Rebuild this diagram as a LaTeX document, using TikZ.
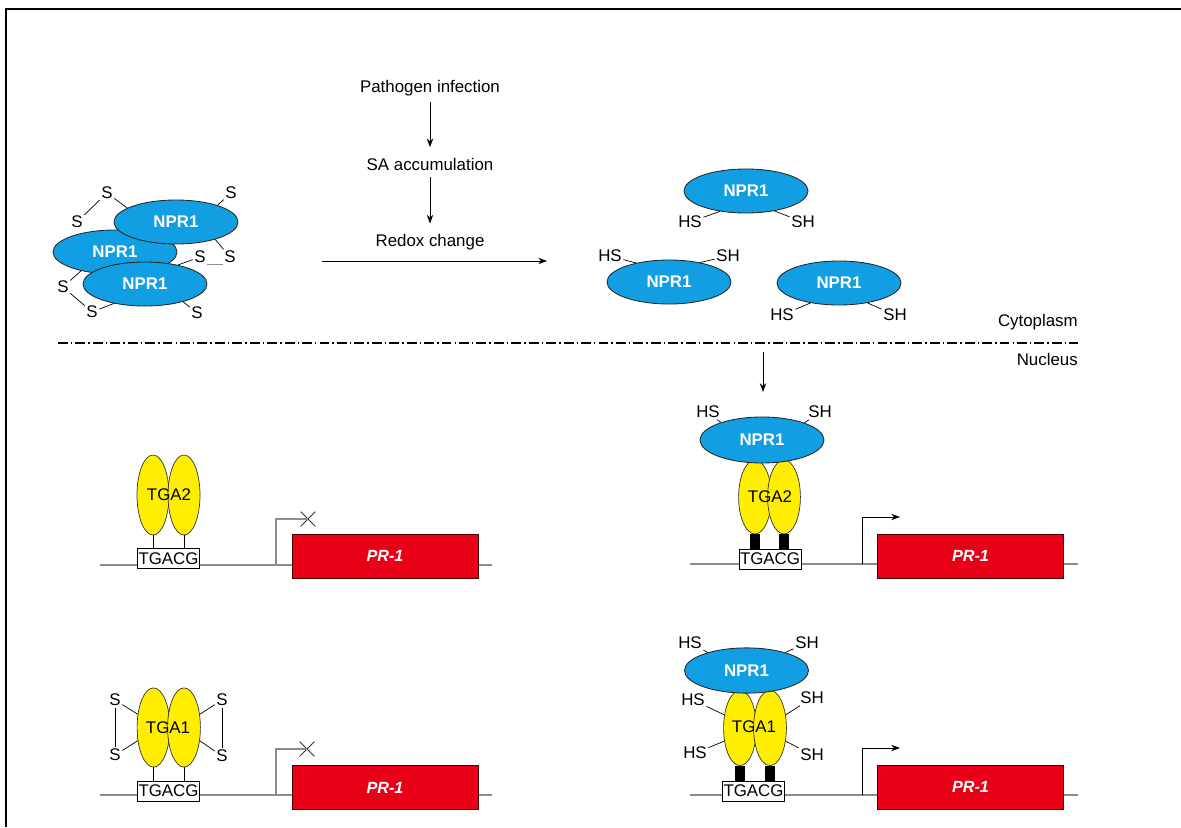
\documentclass[tikz,border=0pt]{standalone}
\usepackage{fontspec}
\setmainfont{Liberation Sans}
\usetikzlibrary{arrows.meta,positioning,calc,shapes.geometric,shapes.misc}
\definecolor{nprblue}{RGB}{18,158,226}
\definecolor{tgayellow}{RGB}{255,238,0}
\definecolor{prred}{RGB}{232,0,22}
\definecolor{dnagray}{RGB}{140,140,140}
\newcommand{\figfont}{\fontsize{12}{14}\selectfont}
\tikzset{
  npr/.style={ellipse, draw=black!85, fill=nprblue, line width=0.6pt, inner sep=0pt,
              minimum width=3.1cm, minimum height=1.1cm, font=\figfont\bfseries, text=white},
  tga/.style={ellipse, draw=black!80, fill=tgayellow, line width=0.5pt, inner sep=0pt,
              minimum width=0.82cm, minimum height=1.85cm},
  site/.style={rectangle, draw, fill=white, line width=0.6pt, inner sep=0pt,
               minimum width=1.55cm, minimum height=0.5cm},
  gene/.style={rectangle, draw=black!70!red, fill=prred, line width=0.6pt, inner sep=0pt,
               minimum width=4.65cm, minimum height=1.1cm, font=\fontsize{11.5}{14}\selectfont\bfseries\itshape, text=white},
  thiol/.style={inner sep=1pt},
  bond/.style={line width=0.5pt},
  bar/.style={line width=0.25cm},
  dna/.style={draw=dnagray, line width=1.2pt},
  prom/.style={draw=dnagray, line width=1pt},
  fl/.style={-{Stealth[length=2.2mm,width=1.6mm]}, line width=0.6pt},
  down/.style={fl, shorten >=4pt, shorten <=1pt},
  nolink/.style={cross out, draw=black!80, line width=0.6pt, inner sep=0pt, minimum size=0.35cm},
}
\begin{document}
\begin{tikzpicture}[x=0.025cm, y=-0.025cm, font=\figfont]
\useasboundingbox (0,0) rectangle (1181,827);
\draw[line width=2.1pt] (1181,9) -- (6,9) -- (6,827);

% oxidized oligomer
\node[npr] (o1) at (115,252) {NPR1};
\node[npr] (o2) at (176,222) {NPR1};
\node[npr] (o3) at (145,284) {NPR1};
\node[thiol] (s1) at (107,193) {S};
\node[thiol] (s2) at (77,222) {S};
\node[thiol] (s3) at (231,193) {S};
\node[thiol] (s4) at (200,257) {S};
\node[thiol] (s5) at (230,257) {S};
\node[thiol] (s6) at (63,287) {S};
\node[thiol] (s7) at (92,312) {S};
\node[thiol] (s8) at (197,313) {S};
\draw[bond] (o2.164) -- (s1);
\draw[bond] (s1) -- (s2);
\draw[bond] (o2.22) -- (s3);
\draw[bond] (o2.-24) -- (s5);
\draw[bond] (o3.30) -- (s4);
\draw[bond, dnagray] (s4.south east) -- (s5.south west);
\draw[bond] (o1.209) -- (s6);
\draw[bond] (s6) -- (s7);
\draw[bond] (o3.212) -- (s7);
\draw[bond] (o3.-25) -- (s8);

% signal
\node (inf) at (430,88) {Pathogen infection};
\node (acc) at (430,164) {SA accumulation};
\node (redox) at (430,242) {Redox change};
\draw[down] (inf) -- (acc);
\draw[down] (acc) -- (redox);
\coordinate (ox1) at (322,261);
\coordinate (ox2) at (547,261);
\draw[fl] (ox1) -- (ox2);

% reduced monomers
\node[npr] (m1) at (746,191) {NPR1};
\node[npr] (m2) at (669,282) {NPR1};
\node[npr] (m3) at (839,283) {NPR1};
\node[thiol] (m1l) at (690,222) {HS};
\node[thiol] (m1r) at (803,222) {SH};
\node[thiol] (m2l) at (610,256) {HS};
\node[thiol] (m2r) at (728,256) {SH};
\node[thiol] (m3l) at (782,315) {HS};
\node[thiol] (m3r) at (895,315) {SH};
\draw[bond] (m1.218) -- (m1l);
\draw[bond] (m1.-35) -- (m1r);
\draw[bond] (m2.150) -- (m2l);
\draw[bond] (m2.32) -- (m2r);
\draw[bond] (m3.215) -- (m3l);
\draw[bond] (m3.-35) -- (m3r);

% membrane
\coordinate (mem1) at (58,343);
\coordinate (mem2) at (1078,343);
\draw[line width=1pt, dash pattern=on 7pt off 2.2pt on 1pt off 2.2pt] (mem1) -- (mem2);
\node[anchor=east, inner sep=0pt] (cyto) at (1078,322) {Cytoplasm};
\node[anchor=east, inner sep=0pt] (nuc) at (1078,359) {Nucleus};
\coordinate (imp1) at (763,352);
\coordinate (imp2) at (763,392);
\draw[fl] (imp1) -- (imp2);

% TGA2, uninduced
\coordinate (d1a) at (100,565);
\coordinate (d1b) at (492,565);
\draw[dna] (d1a) -- (d1b);
\node[nolink] (x1) at (308,519) {};
\coordinate (p1) at (276,565);
\draw[prom] (p1) |- (x1.center);
\node[gene] (g1) at (385,556) {PR-1};
\node[site] (c1) at (168.5,558.5) {TGACG};
\node[tga, minimum width=0.8cm, minimum height=2cm] (a1) at (153,495) {};
\node[tga, minimum width=0.8cm, minimum height=2cm] (b1) at (184,495) {};
\node (t1) at (169,495) {TGA2};
\draw[bond] (a1.south) -- (a1.south |- c1.north);
\draw[bond] (b1.south) -- (b1.south |- c1.north);

% TGA1, uninduced
\coordinate (d2a) at (100,795);
\coordinate (d2b) at (492,795);
\draw[dna] (d2a) -- (d2b);
\node[nolink] (x2) at (307,749) {};
\coordinate (p2) at (276,795);
\draw[prom] (p2) |- (x2.center);
\node[gene] (g2) at (385,787.5) {PR-1};
\node[site] (c2) at (168.5,791) {TGACG};
\node[tga, minimum height=1.98cm] (a2) at (153.5,727.5) {};
\node[tga, minimum height=1.98cm] (b2) at (184,727.5) {};
\node (t2) at (168,728) {TGA1};
\draw[bond] (a2.south) -- (a2.south |- c2.north);
\draw[bond] (b2.south) -- (b2.south |- c2.north);
\node[thiol] (u1) at (115,700) {S};
\node[thiol] (u2) at (115,755) {S};
\node[thiol] (u3) at (222,700) {S};
\node[thiol] (u4) at (222,756) {S};
\draw[bond] (a2.140) -- (u1);
\draw[bond] (a2.220) -- (u2);
\draw[bond] (u1) -- (u2);
\draw[bond] (b2.40) -- (u3);
\draw[bond] (b2.-40) -- (u4);
\draw[bond] (u3) -- (u4);

% TGA2 with NPR1, induced
\coordinate (d3a) at (690,564);
\coordinate (d3b) at (1078,564);
\draw[dna] (d3a) -- (d3b);
\coordinate (p3) at (862,564);
\coordinate (e3) at (900,517);
\draw[fl] (p3) |- (e3);
\node[gene] (g3) at (970.5,556) {PR-1};
\node[site] (c3) at (770,559) {TGACG};
\node[tga] (a3) at (755,497) {};
\node[tga] (b3) at (784,497) {};
\node (t3) at (770,497) {TGA2};
\draw[bar] (a3.south) -- (a3.south |- c3.north);
\draw[bar] (b3.south) -- (b3.south |- c3.north);
\node[npr, minimum height=1.15cm] (n3) at (762,440) {NPR1};
\node[thiol] (n3l) at (708,412) {HS};
\node[thiol] (n3r) at (820,412) {SH};
\draw[bond] (n3.157) -- (n3l);
\draw[bond] (n3.22) -- (n3r);

% TGA1 with NPR1, induced
\coordinate (d4a) at (690,795);
\coordinate (d4b) at (1078,795);
\draw[dna] (d4a) -- (d4b);
\coordinate (p4) at (862,795);
\coordinate (e4) at (900,748);
\draw[fl] (p4) |- (e4);
\node[gene] (g4) at (970.5,787) {PR-1};
\node[site] (c4) at (753.5,791) {TGACG};
\node[tga, minimum height=1.88cm] (a4) at (740,728) {};
\node[tga, minimum height=1.88cm] (b4) at (770,728) {};
\node (t4) at (754,727) {TGA1};
\draw[bar] (a4.south) -- (a4.south |- c4.north);
\draw[bar] (b4.south) -- (b4.south |- c4.north);
\node[npr, minimum height=1.13cm] (n4) at (746.5,670.5) {NPR1};
\node[thiol] (n4l) at (690,643) {HS};
\node[thiol] (n4r) at (807,643) {SH};
\draw[bond] (n4.155) -- (n4l);
\draw[bond] (n4.25) -- (n4r);
\node[thiol] (v1) at (693,700) {HS};
\node[thiol] (v2) at (695,753) {HS};
\node[thiol] (v3) at (812,698) {SH};
\node[thiol] (v4) at (812,755) {SH};
\draw[bond] (a4.140) -- (v1);
\draw[bond] (a4.220) -- (v2);
\draw[bond] (b4.40) -- (v3);
\draw[bond] (b4.-40) -- (v4);
\end{tikzpicture}
\end{document}
